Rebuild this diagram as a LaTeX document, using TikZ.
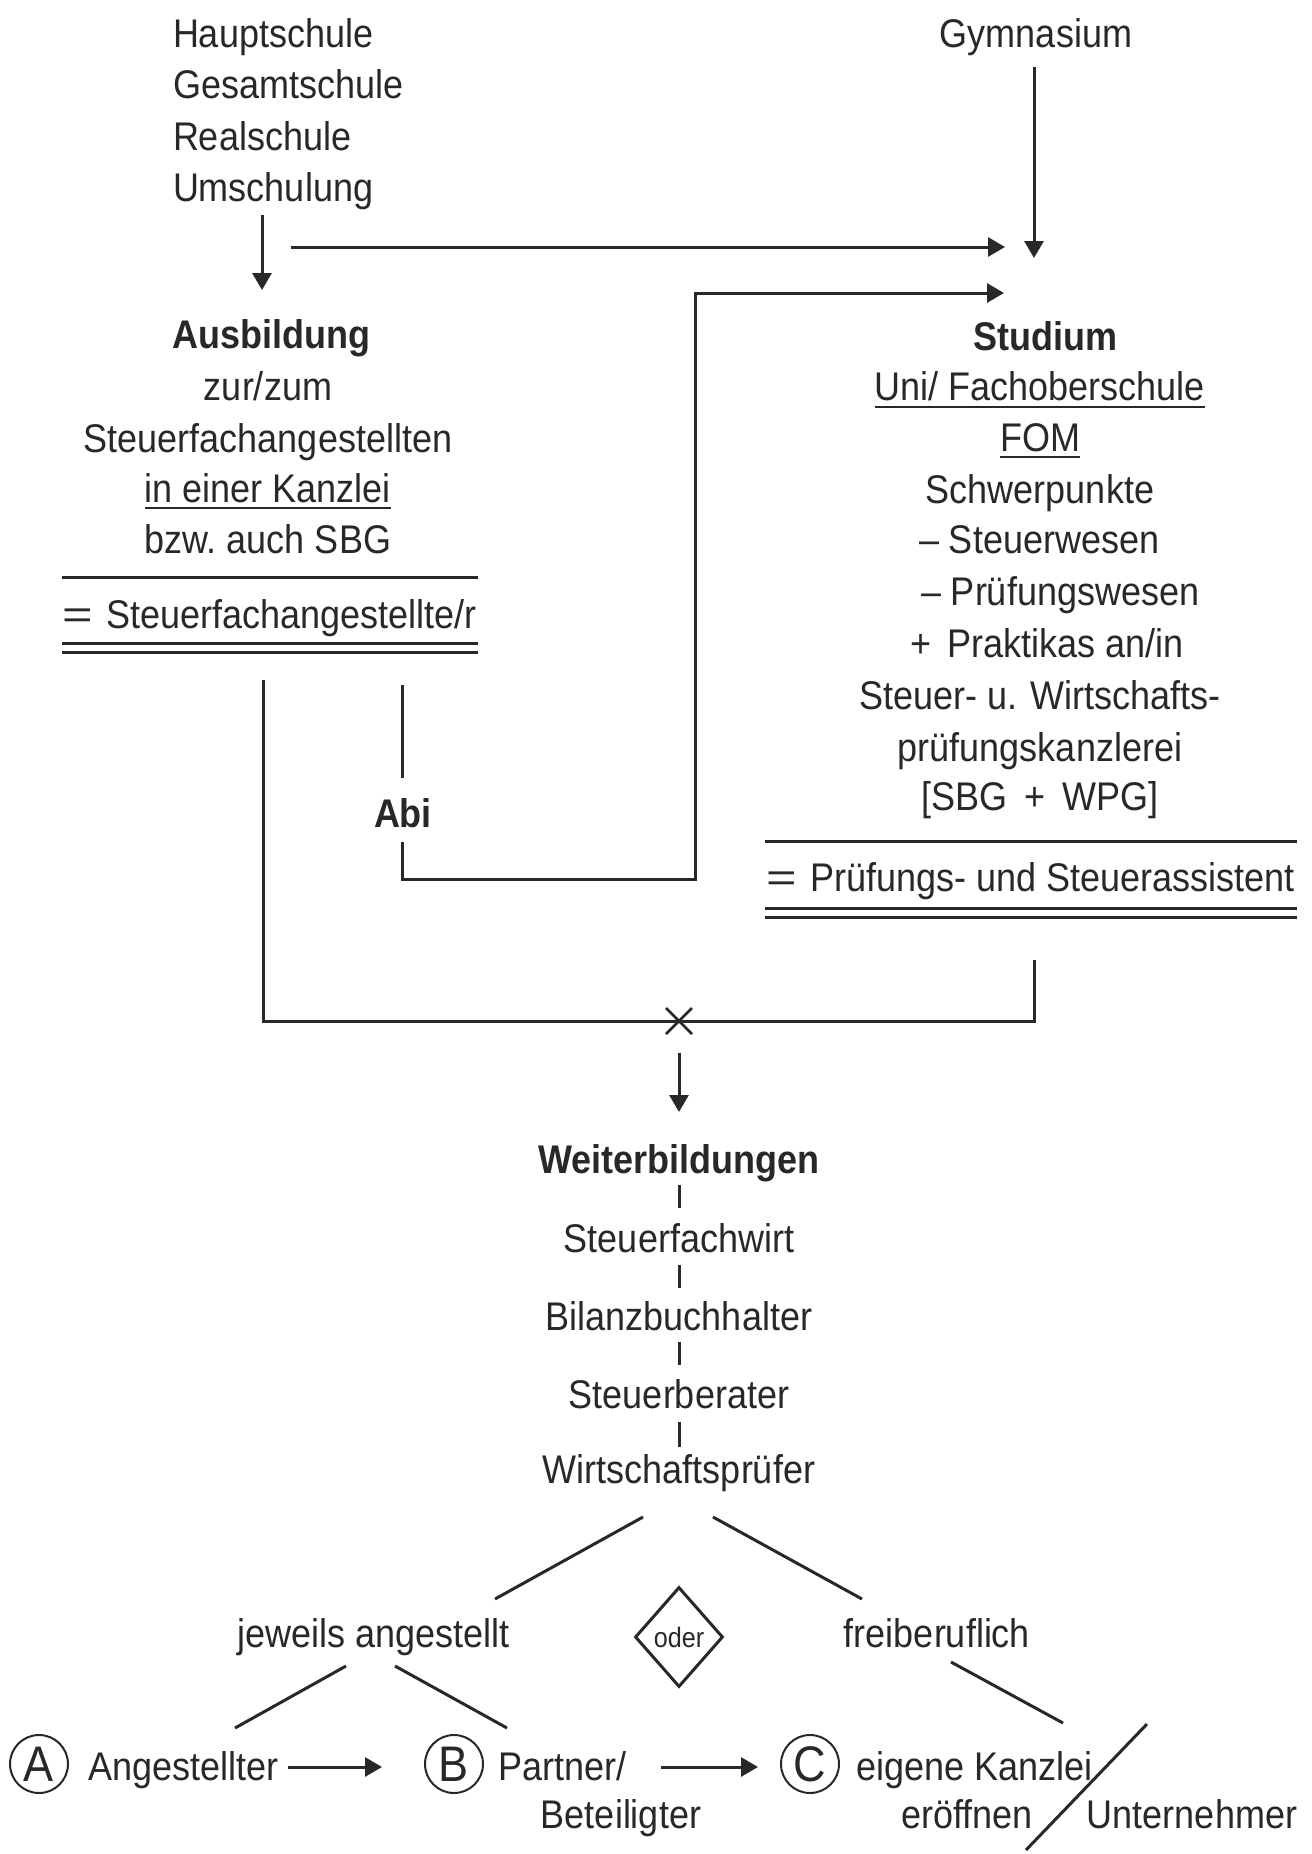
\documentclass[tikz,border=0pt]{standalone}
\usepackage{fontspec}
\usepackage{graphicx}
\setmainfont{Liberation Sans}[FakeStretch=0.9]
\usetikzlibrary{arrows.meta,shapes.geometric}
\definecolor{ink}{RGB}{40,40,40}
\newcommand\eqsign{\makebox[22pt][l]{\scalebox{1.45}[1]{=}}}
\begin{document}
\begin{tikzpicture}[x=0.5pt,y=-0.5pt,
  txt/.style={inner sep=0pt,outer sep=0pt,text=ink,font=\fontsize{20}{24}\selectfont},
  hd/.style={txt,font=\fontsize{20}{24}\selectfont\bfseries},
  ln/.style={draw=ink,line width=1.5pt},
  thinln/.style={draw=ink,line width=1pt},
  arr/.style={ln,-{Triangle[length=8.5pt,width=9.5pt]}},
  circ/.style={circle,draw=ink,line width=1pt,minimum size=29pt,inner sep=0pt,text=ink,font=\fontsize{25}{25}\selectfont},
]
\useasboundingbox (0,0) rectangle (1312,1854);

% --- top sources
\node[txt,anchor=base west] (haupt) at (173,47) {Hauptschule};
\node[txt,anchor=base west] (gesamt) at (173,98) {Gesamtschule};
\node[txt,anchor=base west] (real) at (173,150) {Realschule};
\node[txt,anchor=base west] (umsch) at (173,201) {Umschulung};
\node[txt,anchor=base] (gym) at (1036,47) {Gymnasium};

\coordinate (a1s) at (262,215); \coordinate (a1e) at (262,290);
\coordinate (h1s) at (291,247); \coordinate (h1e) at (1005,247);
\coordinate (g1s) at (1034,67); \coordinate (g1e) at (1034,258);
\draw[arr] (a1s) -- (a1e);
\draw[arr] (h1s) -- (h1e);
\draw[arr] (g1s) -- (g1e);

% --- Ausbildung block
\node[hd,anchor=base] (ausb) at (271,348) {Ausbildung};
\node[txt,anchor=base] (zur) at (268,400) {zur/zum};
\node[txt,anchor=base] (stfa) at (268,452) {Steuerfachangestellten};
\node[txt,anchor=base] (kanz) at (268,502) {in einer Kanzlei};
\draw[thinln] ([shift={(0,6)}]kanz.base west) -- ([shift={(0,6)}]kanz.base east);
\node[txt,anchor=base] (sbg) at (268,553) {bzw.\ auch SBG};
\draw[ln] (62,577) -- (478,577);
\node[txt,anchor=base west] (sfa) at (62,628) {\eqsign Steuerfachangestellte/r};
\draw[ln] (62,643) -- (478,643);
\draw[ln] (62,652) -- (478,652);

% --- Studium block
\node[hd,anchor=base] (stud) at (1045,350) {Studium};
\node[txt,anchor=base] (uni) at (1040,400) {Uni/ Fachoberschule};
\draw[thinln] ([shift={(0,7)}]uni.base west) -- ([shift={(0,7)}]uni.base east);
\node[txt,anchor=base] (fom) at (1040,451) {FOM};
\draw[thinln] ([shift={(0,6)}]fom.base west) -- ([shift={(0,6)}]fom.base east);
\node[txt,anchor=base] (schw) at (1040,503) {Schwerpunkte};
\node[txt,anchor=base west] (stw) at (919,553) {– Steuerwesen};
\node[txt,anchor=base west] (prw) at (921,605) {– Prüfungswesen};
\node[txt,anchor=base] (prak) at (1047,657) {+\, Praktikas an/in};
\node[txt,anchor=base] (swp) at (1040,709) {Steuer- u. Wirtschafts-};
\node[txt,anchor=base] (pk) at (1040,761) {prüfungskanzlerei};
\node[txt,anchor=base] (sbgw) at (1040,810) {[SBG\, +\, WPG]};
\draw[ln] (765,841.5) -- (1297,841.5);
\node[txt,anchor=base west] (psa) at (766,891) {\eqsign Prüfungs- und Steuerassistent};
\draw[ln] (765,908) -- (1297,908);
\draw[ln] (765,917) -- (1297,917);

% --- Abi path
\node[hd,anchor=base] (abi) at (403,827) {Abi};
\coordinate (abitop) at (402,685); \coordinate (abiup) at (402,778);
\coordinate (abilow) at (402,842); \coordinate (abic) at (402,879);
\coordinate (abir) at (695,879); \coordinate (abiu) at (695,293);
\coordinate (stin) at (1004,293);
\draw[ln] (abitop) -- (abiup);
\draw[arr] (abilow) -- (abic) -- (abir) -- (abiu) -- (stin);

% --- merge
\coordinate (lt) at (263,680); \coordinate (lb) at (263,1021);
\coordinate (rt) at (1034,960); \coordinate (rb) at (1034,1021);
\draw[ln] (lt) -- (lb) -- (rb) -- (rt);
\coordinate (xm) at (679,1021);
\draw[draw=ink,line width=1.3pt] ([shift={(-13,-13)}]xm) -- ([shift={(13,13)}]xm);
\draw[draw=ink,line width=1.3pt] ([shift={(-13,13)}]xm) -- ([shift={(13,-13)}]xm);
\coordinate (d1s) at (679,1053); \coordinate (d1e) at (679,1112);
\draw[arr] (d1s) -- (d1e);

% --- Weiterbildungen
\node[hd,anchor=base] (wb) at (679,1173) {Weiterbildungen};
\node[txt,anchor=base] (sfw) at (679,1252) {Steuerfachwirt};
\node[txt,anchor=base] (bbh) at (679,1330) {Bilanzbuchhalter};
\node[txt,anchor=base] (stb) at (679,1408) {Steuerberater};
\node[txt,anchor=base] (wp) at (679,1483) {Wirtschaftsprüfer};
\draw[ln] (679,1185) -- (679,1208);
\draw[ln] (679,1265) -- (679,1288);
\draw[ln] (679,1342) -- (679,1365);
\draw[ln] (679,1422) -- (679,1447);

% --- branches
\coordinate (wl1) at (643,1517); \coordinate (wl2) at (495,1599);
\coordinate (wr1) at (713,1517); \coordinate (wr2) at (862,1599);
\draw[ln] (wl1) -- (wl2);
\draw[ln] (wr1) -- (wr2);
\node[txt,anchor=base] (jew) at (374,1647) {jeweils angestellt};
\node[diamond,draw=ink,line width=1.5pt,minimum width=44pt,minimum height=50pt,inner sep=0pt,text=ink,font=\fontsize{14}{14}\selectfont] (oder) at (679,1637) {oder};
\node[txt,anchor=base] (frei) at (937,1647) {freiberuflich};
\coordinate (jl1) at (346,1666); \coordinate (jl2) at (235,1728);
\coordinate (jr1) at (395,1666); \coordinate (jr2) at (507,1728);
\coordinate (fr1) at (951,1662); \coordinate (fr2) at (1063,1723);
\draw[ln] (jl1) -- (jl2);
\draw[ln] (jr1) -- (jr2);
\draw[ln] (fr1) -- (fr2);

% --- bottom row
\node[circ] (ca) at (39,1764) {A};
\node[txt,anchor=base west] (ang) at (88,1780) {Angestellter};
\coordinate (ar1s) at (288,1767); \coordinate (ar1e) at (382,1767);
\draw[arr] (ar1s) -- (ar1e);
\node[circ] (cb) at (454,1764) {B};
\node[txt,anchor=base west] (partner) at (498,1780) {Partner/};
\node[txt,anchor=base] (bet) at (621,1828) {Beteiligter};
\coordinate (ar2s) at (661,1767); \coordinate (ar2e) at (758,1767);
\draw[arr] (ar2s) -- (ar2e);
\node[circ] (cc) at (810,1764) {C};
\node[txt,anchor=base west] (eig) at (856,1780) {eigene Kanzlei};
\node[txt,anchor=base] (eroe) at (967,1828) {eröffnen};
\coordinate (sl1) at (1147,1724); \coordinate (sl2) at (1026,1850);
\draw[ln] (sl1) -- (sl2);
\node[txt,anchor=base] (unt) at (1192,1828) {Unternehmer};
\end{tikzpicture}
\end{document}
